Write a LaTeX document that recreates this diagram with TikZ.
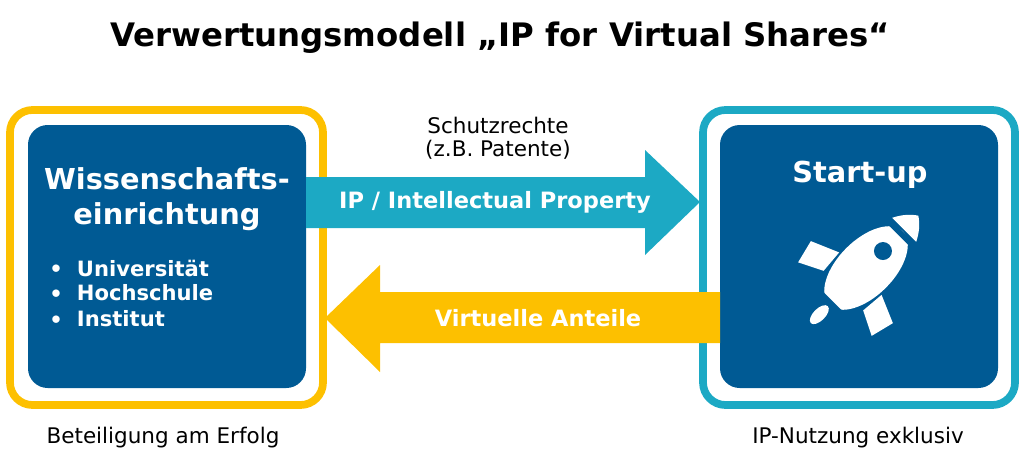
\documentclass[tikz,border=0pt]{standalone}
\usepackage{fontspec}
\setmainfont{DejaVu Sans}
\setsansfont{DejaVu Sans}
\definecolor{uniblue}{HTML}{005A94}
\definecolor{ipcyan}{HTML}{1CA9C4}
\definecolor{shareyellow}{HTML}{FDC000}
\begin{document}
\begin{tikzpicture}[x=0.025cm,y=-0.025cm,
  outerbox/.style={rounded corners=16,line width=5.5},
  innerbox/.style={fill=uniblue,rounded corners=14},
  whitebold/.style={text=white,font=\bfseries\fontsize{16}{19}\selectfont},
  plaintext/.style={font=\fontsize{15.3}{18}\selectfont}]
\useasboundingbox (0,0) rectangle (1024,461);
% title
\node[font=\bfseries\fontsize{23}{27}\selectfont] (title) at (500,38) {Verwertungsmodell „IP for Virtual Shares“};
% boxes
\draw[outerbox,draw=shareyellow] (10,110) rectangle (323,405);
\fill[innerbox] (28,125) rectangle (306,388);
\draw[outerbox,draw=ipcyan] (703,110) rectangle (1015,405);
\fill[innerbox] (720,125) rectangle (998,388);
% arrows
\fill[ipcyan] (306,177) -- (645,177) -- (645,150) -- (700,202) -- (645,255) -- (645,228) -- (306,228) -- cycle;
\fill[shareyellow] (720,292) -- (380,292) -- (380,265) -- (325,318) -- (380,372) -- (380,343) -- (720,343) -- cycle;
\node[whitebold] (ip) at (495,202) {IP / Intellectual Property};
\node[whitebold] (shares) at (538,318) {Virtuelle Anteile};
\node[plaintext] (schutz) at (498,125) {Schutzrechte};
\node[plaintext] (patente) at (498,150) {(z.B. Patente)};
% left box text
\node[whitebold,font=\bfseries\fontsize{20.5}{24}\selectfont,align=center] (wiss) at (167,199) {Wissenschafts-\\[1pt]einrichtung};
\foreach \y/\t in {268/Universität,293/Hochschule,319/Institut}{
  \node[whitebold,font=\bfseries\fontsize{15}{18}\selectfont] at (56,\y+3) {•};
  \node[whitebold,font=\bfseries\fontsize{15}{18}\selectfont,anchor=west] at (72,\y) {\t};}
% right box text
\node[whitebold,font=\bfseries\fontsize{20.5}{24}\selectfont] (startup) at (860,175) {Start-up};
% rocket
\begin{scope}[shift={(866,268)},rotate=45]
  \fill[white] (0,0) ellipse [x radius=52,y radius=28];
  \fill[white] (54,-17) .. controls (64,-12) and (70,-6) .. (74,0) .. controls (70,6) and (64,12) .. (54,17) -- cycle;
  \fill[white] (-8,-30) -- (-20,-58) -- (-44,-52) -- (-32,-28) -- cycle;
  \fill[white] (-8,30) -- (-20,58) -- (-44,52) -- (-32,28) -- cycle;
  \fill[white] (-66,0) ellipse [x radius=12,y radius=6];
  \draw[uniblue,line width=4] (49,-25) -- (49,25);
  \draw[uniblue,line width=4] (-50,-22) -- (-50,22);
  \fill[uniblue] (24,0) circle (9);
\end{scope}
% captions
\node[plaintext] (beteil) at (163,438) {Beteiligung am Erfolg};
\node[plaintext] (nutzung) at (858,438) {IP-Nutzung exklusiv};
\end{tikzpicture}
\end{document}
